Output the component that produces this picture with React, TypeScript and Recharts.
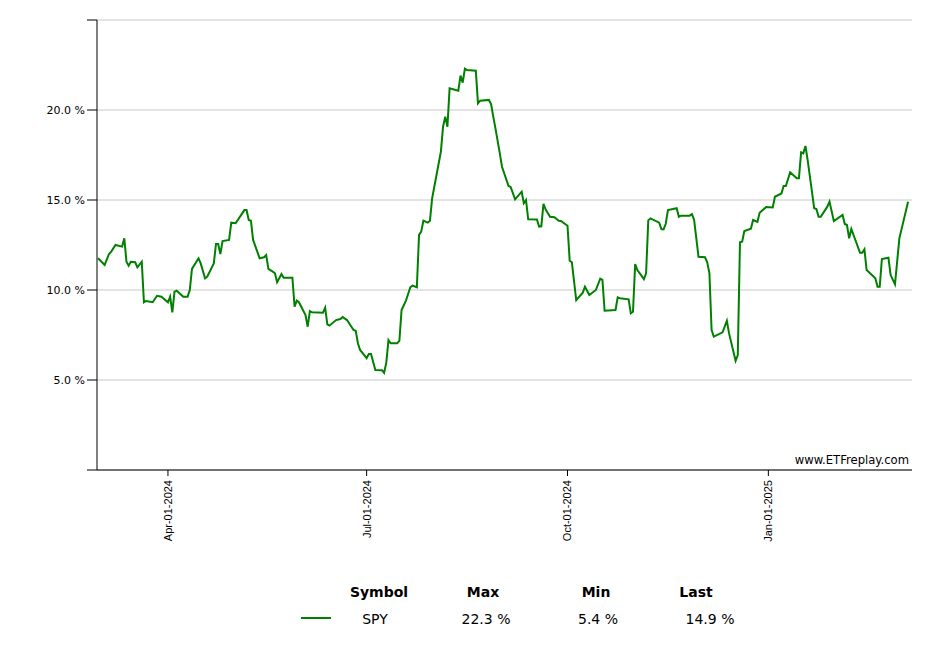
import { CartesianGrid, Line, LineChart, XAxis, YAxis } from "recharts"

const dates = [
  "2024-02-29", "2024-03-03", "2024-03-05", "2024-03-06", "2024-03-08", "2024-03-11", "2024-03-12", "2024-03-13",
  "2024-03-14", "2024-03-15", "2024-03-17", "2024-03-18", "2024-03-20", "2024-03-21", "2024-03-22", "2024-03-25",
  "2024-03-27", "2024-03-29", "2024-04-01", "2024-04-02", "2024-04-03", "2024-04-04", "2024-04-05", "2024-04-08",
  "2024-04-10", "2024-04-11", "2024-04-12", "2024-04-15", "2024-04-16", "2024-04-18", "2024-04-19", "2024-04-22",
  "2024-04-23", "2024-04-24", "2024-04-25", "2024-04-26", "2024-04-29", "2024-04-30", "2024-05-02", "2024-05-06",
  "2024-05-07", "2024-05-08", "2024-05-09", "2024-05-10", "2024-05-13", "2024-05-15", "2024-05-16", "2024-05-17",
  "2024-05-19", "2024-05-20", "2024-05-21", "2024-05-23", "2024-05-24", "2024-05-28", "2024-05-29", "2024-05-30",
  "2024-05-31", "2024-06-03", "2024-06-04", "2024-06-05", "2024-06-06", "2024-06-11", "2024-06-12", "2024-06-13",
  "2024-06-14", "2024-06-17", "2024-06-19", "2024-06-20", "2024-06-22", "2024-06-25", "2024-06-26", "2024-06-27",
  "2024-06-28", "2024-07-01", "2024-07-02", "2024-07-03", "2024-07-05", "2024-07-08", "2024-07-09", "2024-07-10",
  "2024-07-11", "2024-07-12", "2024-07-15", "2024-07-16", "2024-07-17", "2024-07-19", "2024-07-21", "2024-07-22",
  "2024-07-24", "2024-07-25", "2024-07-26", "2024-07-27", "2024-07-29", "2024-07-30", "2024-07-31", "2024-08-02",
  "2024-08-04", "2024-08-05", "2024-08-06", "2024-08-07", "2024-08-08", "2024-08-12", "2024-08-13", "2024-08-14",
  "2024-08-15", "2024-08-16", "2024-08-20", "2024-08-21", "2024-08-22", "2024-08-26", "2024-08-27", "2024-08-28",
  "2024-08-29", "2024-08-31", "2024-09-01", "2024-09-04", "2024-09-05", "2024-09-07", "2024-09-10", "2024-09-11",
  "2024-09-12", "2024-09-13", "2024-09-17", "2024-09-18", "2024-09-19", "2024-09-20", "2024-09-21", "2024-09-23",
  "2024-09-25", "2024-09-27", "2024-09-28", "2024-10-01", "2024-10-02", "2024-10-03", "2024-10-05", "2024-10-08",
  "2024-10-09", "2024-10-11", "2024-10-14", "2024-10-16", "2024-10-17", "2024-10-18", "2024-10-23", "2024-10-24",
  "2024-10-25", "2024-10-29", "2024-10-30", "2024-10-31", "2024-11-01", "2024-11-02", "2024-11-05", "2024-11-06",
  "2024-11-07", "2024-11-08", "2024-11-12", "2024-11-13", "2024-11-14", "2024-11-15", "2024-11-16", "2024-11-20",
  "2024-11-21", "2024-11-22", "2024-11-26", "2024-11-27", "2024-11-28", "2024-11-30", "2024-12-03", "2024-12-04",
  "2024-12-05", "2024-12-06", "2024-12-07", "2024-12-11", "2024-12-12", "2024-12-13", "2024-12-14", "2024-12-17",
  "2024-12-18", "2024-12-19", "2024-12-20", "2024-12-21", "2024-12-24", "2024-12-25", "2024-12-27", "2024-12-28",
  "2024-12-31", "2025-01-03", "2025-01-04", "2025-01-07", "2025-01-08", "2025-01-09", "2025-01-11", "2025-01-14",
  "2025-01-15", "2025-01-16", "2025-01-17", "2025-01-18", "2025-01-19", "2025-01-22", "2025-01-23", "2025-01-24",
  "2025-01-25", "2025-01-28", "2025-01-29", "2025-01-31", "2025-02-04", "2025-02-05", "2025-02-06", "2025-02-07",
  "2025-02-08", "2025-02-12", "2025-02-13", "2025-02-14", "2025-02-15", "2025-02-19", "2025-02-20", "2025-02-21",
  "2025-02-22", "2025-02-25", "2025-02-26", "2025-02-28", "2025-03-02", "2025-03-06",
]

const spyValues = [
  11.76, 11.39, 12.0, 12.13, 12.5, 12.41, 12.87, 11.57,
  11.35, 11.57, 11.54, 11.26, 11.57, 9.32, 9.39, 9.32,
  9.68, 9.63, 9.32, 9.63, 8.76, 9.91, 9.96, 9.63,
  9.63, 10.0, 11.17, 11.76, 11.48, 10.65, 10.74, 11.48,
  12.56, 12.56, 12.0, 12.72, 12.78, 13.74, 13.71, 14.44,
  14.44, 13.89, 13.85, 12.78, 11.76, 11.82, 11.94, 11.17,
  11.02, 10.93, 10.43, 10.89, 10.68, 10.68, 9.07, 9.41,
  9.32, 8.61, 7.96, 8.83, 8.76, 8.74, 9.02, 8.09,
  8.02, 8.33, 8.39, 8.5, 8.33, 7.78, 7.74, 7.04,
  6.67, 6.21, 6.44, 6.44, 5.56, 5.54, 5.4, 5.96,
  7.22, 7.04, 7.04, 7.17, 8.89, 9.41, 10.15, 10.24,
  10.15, 13.06, 13.24, 13.85, 13.74, 13.85, 15.09, 16.39,
  17.68, 19.07, 19.63, 19.07, 21.21, 21.07, 21.91, 21.52,
  22.3, 22.22, 22.18, 20.37, 20.52, 20.56, 20.33, 19.63,
  18.98, 17.59, 16.85, 15.78, 15.71, 15.04, 15.46, 14.82,
  15.0, 13.93, 13.92, 13.52, 13.54, 14.78, 14.47, 14.07,
  14.04, 13.85, 13.83, 13.57, 11.63, 11.54, 9.44, 9.85,
  10.18, 9.72, 10.0, 10.63, 10.56, 8.85, 8.89, 9.59,
  9.54, 9.48, 8.71, 8.79, 11.44, 11.11, 10.6, 10.93,
  13.87, 13.98, 13.74, 13.38, 13.37, 13.68, 14.44, 14.54,
  14.07, 14.13, 14.13, 14.22, 13.89, 11.85, 11.82, 11.54,
  10.93, 7.78, 7.41, 7.65, 7.96, 8.29, 7.59, 6.07,
  6.39, 12.65, 12.68, 13.28, 13.41, 13.89, 13.78, 14.29,
  14.61, 14.59, 15.18, 15.36, 15.78, 15.78, 16.54, 16.21,
  16.21, 17.65, 17.59, 18.0, 17.22, 14.54, 14.5, 14.07,
  14.07, 14.63, 14.91, 13.83, 14.17, 13.67, 13.61, 12.87,
  13.39, 12.07, 12.07, 12.26, 11.11, 10.65, 10.18, 10.18,
  11.72, 11.79, 10.83, 10.32, 12.87, 14.9,
]

const xTickDates = ["2024-04-01", "2024-07-01", "2024-10-01", "2025-01-01"]
const yTicks = [0, 5, 10, 15, 20, 25]
const months = ["Jan", "Feb", "Mar", "Apr", "May", "Jun", "Jul", "Aug", "Sep", "Oct", "Nov", "Dec"]

const legendHeaders = ["Symbol", "Max", "Min", "Last"]
const legendRow = ["SPY", "22.3 %", "5.4 %", "14.9 %"]

const data = dates.map((d, i) => ({ t: Date.parse(d), spy: spyValues[i] }))
const xTicks = xTickDates.map((d) => Date.parse(d))
const xDomain = [Date.UTC(2024, 1, 28, 12), Date.UTC(2025, 2, 7, 19)]

const fmtDate = (t: number) => {
  const d = new Date(t)
  const dd = String(d.getUTCDate()).padStart(2, "0")
  return `${months[d.getUTCMonth()]}-${dd}-${d.getUTCFullYear()}`
}

const XTick = (props: any) => {
  const { x, y, payload } = props
  const tx = x + 4
  const ty = y + 2
  return (
    <text
      x={tx}
      y={ty}
      textAnchor="end"
      fontSize={11}
      fontFamily="'Liberation Sans', Arial, sans-serif"
      fill="#000"
      transform={`rotate(-90, ${tx}, ${ty})`}
    >
      {fmtDate(payload.value)}
    </text>
  )
}

const headerX = [379, 483, 596, 696]
const rowX = [375, 486, 598, 710]

const labelStyle = (x: number, y: number, bold: boolean): React.CSSProperties => ({
  position: "absolute",
  left: x,
  top: y - 9,
  transform: "translateX(-50%)",
  fontFamily: "'DejaVu Sans', Verdana, sans-serif",
  fontSize: 14,
  lineHeight: "18px",
  fontWeight: bold ? "bold" : "normal",
  color: "#000",
  whiteSpace: "nowrap",
})

export default function App() {
  return (
    <div style={{ position: "absolute", left: 0, top: 0, width: 940, height: 660, background: "#fff" }}>
      <LineChart width={940} height={660} data={data} margin={{ top: 20, right: 28, left: 0, bottom: 0 }}>
        <CartesianGrid horizontal vertical={false} stroke="#c8c8c8" strokeWidth={1} />
        <XAxis
          dataKey="t"
          type="number"
          scale="time"
          domain={xDomain}
          ticks={xTicks}
          height={190}
          tickSize={6}
          stroke="#000"
          tick={<XTick />}
          interval={0}
        />
        <YAxis
          type="number"
          domain={[0, 25]}
          ticks={yTicks}
          width={97}
          tickSize={10}
          stroke="#000"
          interval={0}
          tick={{ fontSize: 11, fontFamily: "'DejaVu Sans', Verdana, sans-serif", fill: "#000" }}
          tickFormatter={(v: number) => (v === 0 || v === 25 ? "" : `${v.toFixed(1)} %`)}
        />
        <Line
          type="linear"
          dataKey="spy"
          stroke="#008000"
          strokeWidth={2}
          dot={false}
          isAnimationActive={false}
        />
      </LineChart>
      <div
        style={{
          position: "absolute",
          right: 31,
          top: 453,
          fontFamily: "'DejaVu Sans', Verdana, sans-serif",
          fontSize: 11.6,
          color: "#000",
        }}
      >
        www.ETFreplay.com
      </div>
      {legendHeaders.map((h, i) => (
        <div key={h} style={labelStyle(headerX[i], 592, true)}>
          {h}
        </div>
      ))}
      <div style={{ position: "absolute", left: 301, top: 617, width: 30, height: 2, background: "#008000" }} />
      {legendRow.map((v, i) => (
        <div key={i} style={labelStyle(rowX[i], 619, false)}>
          {v}
        </div>
      ))}
    </div>
  )
}
